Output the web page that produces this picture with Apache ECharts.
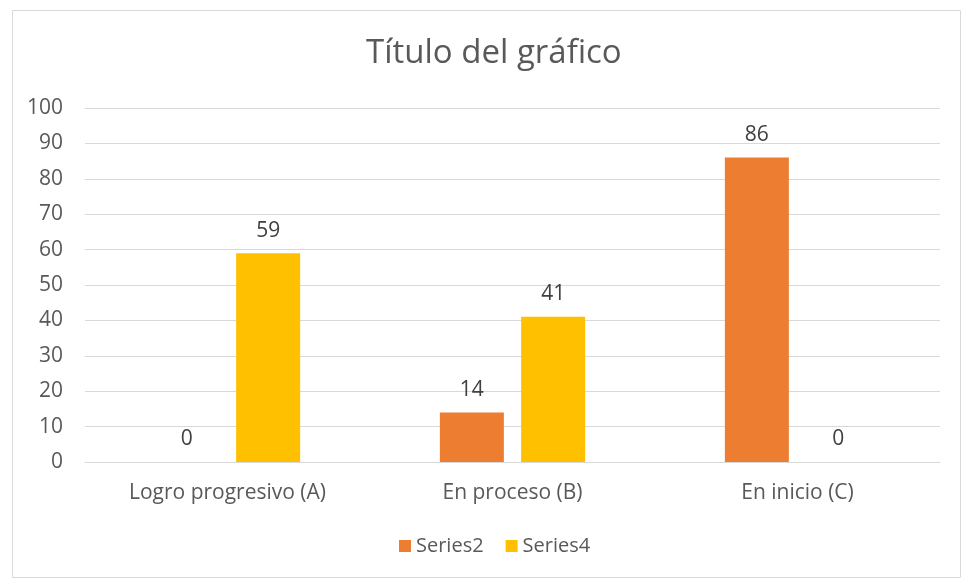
<!DOCTYPE html>
<html><head><meta charset="utf-8">
<script src="https://cdn.jsdelivr.net/npm/echarts@6/dist/echarts.min.js"></script>
<style>html,body{margin:0;padding:0;background:#fff}#c{width:961px;height:579px}</style>
</head><body><div id="c"></div>
<script>
const categories = ['Logro progresivo (A)', 'En proceso (B)', 'En inicio (C)'];
const series2 = [0, 14, 86];
const series4 = [59, 41, 0];
const yTicks = [0, 10, 20, 30, 40, 50, 60, 70, 80, 90, 100];

const FONT = 'Open Sans';
const chart = echarts.init(document.getElementById('c'));
chart.setOption({
  animation: false,
  textStyle: { fontFamily: FONT },
  graphic: [{
    type: 'rect', left: 10, top: 8,
    shape: { width: 948, height: 567 },
    style: { fill: 'none', stroke: '#d9d9d9', lineWidth: 1 }
  }],
  title: {
    text: 'Título del gráfico', left: 361, top: 32,
    textStyle: { fontFamily: FONT, fontSize: 33, fontWeight: 'normal', color: '#595959' }
  },
  legend: {
    bottom: 18, left: 394, itemWidth: 12, itemHeight: 12, itemGap: 22, itemTextGap: 8,
    icon: 'rect',
    textStyle: { fontFamily: FONT, fontSize: 20, color: '#595959' },
    data: ['Series2', 'Series4']
  },
  grid: { left: 85, right: 21, top: 108, bottom: 117, containLabel: false },
  xAxis: {
    type: 'category', data: categories,
    axisLine: { lineStyle: { color: '#d9d9d9' } },
    axisTick: { show: false },
    axisLabel: { fontFamily: FONT, fontSize: 21, color: '#595959', margin: 21 }
  },
  yAxis: {
    type: 'value', min: yTicks[0], max: yTicks[yTicks.length - 1], interval: 10,
    axisLine: { show: false }, axisTick: { show: false },
    splitLine: { lineStyle: { color: '#d9d9d9' } },
    axisLabel: { fontFamily: FONT, fontSize: 21, color: '#595959', margin: 22 }
  },
  series: [
    { name: 'Series2', type: 'bar', data: series2, barWidth: 64, barGap: '27%',
      itemStyle: { color: '#ED7D31' },
      label: { show: true, position: 'top', distance: 12, fontFamily: FONT, fontSize: 21, color: '#404040' } },
    { name: 'Series4', type: 'bar', data: series4, barWidth: 64,
      itemStyle: { color: '#FFC000' },
      label: { show: true, position: 'top', distance: 12, fontFamily: FONT, fontSize: 21, color: '#404040' } }
  ]
});
</script></body></html>
